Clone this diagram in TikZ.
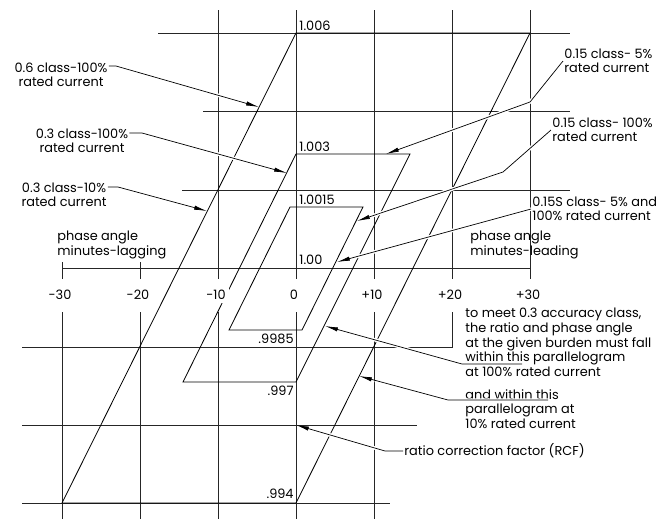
\documentclass[tikz,border=0pt]{standalone}
\usepackage{fontspec}
\setmainfont{Poppins}
\usetikzlibrary{arrows.meta,calc}
\tikzset{
grid/.style = {draw=black!85, line width=0.75pt},
para/.style = {draw=black, line width=0.7pt},
leader/.style = {draw=black, line width=0.6pt, -{Latex[length=11pt,width=3.6pt]},
  preaction={draw=white, line width=3pt, -, shorten >=14pt}},
note/.style = {font=\fontsize{11}{12.4}\selectfont, inner sep=1pt, align=left},
val/.style = {font=\fontsize{11}{12}\selectfont, inner sep=1pt},
tmp/.style = {coordinate}
}
\begin{document}
\begin{tikzpicture}[x=0.03cm, y=-0.03cm]
    \useasboundingbox (0,0) rectangle (663,519);
    % We start with the grid lines
    \draw[grid] (158,33) -- (570,33);
    \draw[grid] (203,111) -- (570,111);
    \draw[grid] (182,190) -- (570,190);
    \draw[grid] (62,268) -- (530,268);
    \draw[grid] (22,347) -- (453,347);
    \draw[grid] (22,425) -- (417,425);
    \draw[grid] (22,503) -- (390,503);
    \foreach \m/\top/\bot in {-30/262/519, -20/262/519, -10/10/519, 0/10/519, 10/10/519, 20/10/347} {
        \draw[grid] ({296+7.8*\m},\top) -- ({296+7.8*\m},279);
        \draw[grid] ({296+7.8*\m},312) -- ({296+7.8*\m},\bot);
    }
    \draw[grid] (530,10) -- (530,279);

    % The parallelograms
    \draw[para] (296,33) -- (530,33) -- (296,503) -- (62,503) -- cycle;
    \draw[para] (296,154) -- (410,154) -- (296,382) -- (183,382) -- cycle;
    \draw[para] (290,207) -- (363,207) -- (302,330) -- (229,330) -- cycle;

    % Scale values
    \foreach \m/\t [count=\i] in {-30/-30, -20/-20, -10/-10, 0/0, 10/+10, 20/+20, 30/+30}
        \node[val, fill=white, inner sep=3pt] (ax\i) at ({294+7.8*\m},295) {\t};
    \node[val, anchor=south west] (r1006) at (298,32) {1.006};
    \node[val, anchor=south west] (r1003) at (298,153) {1.003};
    \node[val, anchor=south west] (r10015) at (298,206) {1.0015};
    \node[val, anchor=south west] (r100) at (298,266) {1.00};
    \node[val, anchor=north east] (r9985) at (295,333) {.9985};
    \node[val, anchor=north east] (r997) at (295,385) {.997};
    \node[val, anchor=south east] (r994) at (295,500) {.994};

    % Labels
    \node[note, align=center] (c06) at (61,75) {0.6 class-100\%\\rated current};
    \node[note, align=center] (c03a) at (82,141) {0.3 class-100\%\\rated current};
    \node[note, align=center] (c03b) at (64,195) {0.3 class-10\%\\rated current};
    \node[note, anchor=west] (c15a) at (563,61) {0.15 class- 5\%\\rated current};
    \node[note, anchor=west] (c15b) at (551,130) {0.15 class- 100\%\\rated current};
    \node[note, anchor=west] (c15S) at (531,209) {0.15S class- 5\% and\\100\% rated current};
    \node[note, anchor=west] (lag) at (56,245) {phase angle\\minutes-lagging};
    \node[note, anchor=west] (lead) at (469,245) {phase angle\\minutes-leading};
    \node[note, anchor=north west] (meet) at (464,307) {to meet 0.3 accuracy class,\\the ratio and phase angle\\at the given burden must fall\\within this parallelogram\\at 100\% rated current};
    \node[note, anchor=north west] (within) at (464,388) {and within this\\parallelogram at\\10\% rated current};
    \node[note, anchor=west] (rcf) at (403,451) {ratio correction factor (RCF)};

    % Leader points
    \node[tmp] (k06) at (116,66) {};
    \node[tmp] (t06) at (259,107) {};
    \node[tmp] (k03a) at (142,133) {};
    \node[tmp] (t03a) at (287,173) {};
    \node[tmp] (k03b) at (118,187) {};
    \node[tmp] (t03b) at (207,211) {};
    \node[tmp] (k15a) at (530,102) {};
    \node[tmp] (t15a) at (386,154) {};
    \node[tmp] (k15b) at (503,172) {};
    \node[tmp] (t15b) at (357,221) {};
    \node[tmp] (t15S) at (337,262) {};
    \node[tmp] (u100) at (522,364) {};
    \node[tmp] (k100) at (462,364) {};
    \node[tmp] (t100) at (325,326) {};
    \node[tmp] (u10) at (548,400) {};
    \node[tmp] (k10) at (448,400) {};
    \node[tmp] (t10) at (359,376) {};
    \node[tmp] (krcf) at (385,451) {};
    \node[tmp] (trcf) at (296,425) {};

    % Then the leaders
    \draw[leader] (c06.east |- k06) -- (k06) -- (t06);
    \draw[leader] (c03a.east |- k03a) -- (k03a) -- (t03a);
    \draw[leader] (c03b.east |- k03b) -- (k03b) -- (t03b);
    \draw[leader] (c15a.west) -- (k15a) -- (t15a);
    \draw[leader] (c15b.west) -- (k15b) -- (t15b);
    \draw[leader] (c15S.west) -- (t15S);
    \draw[leader] (u100) -- (k100) -- (t100);
    \draw[leader] (u10) -- (k10) -- (t10);
    \draw[leader] (rcf.west) -- (krcf) -- (trcf);
\end{tikzpicture}
\end{document}
